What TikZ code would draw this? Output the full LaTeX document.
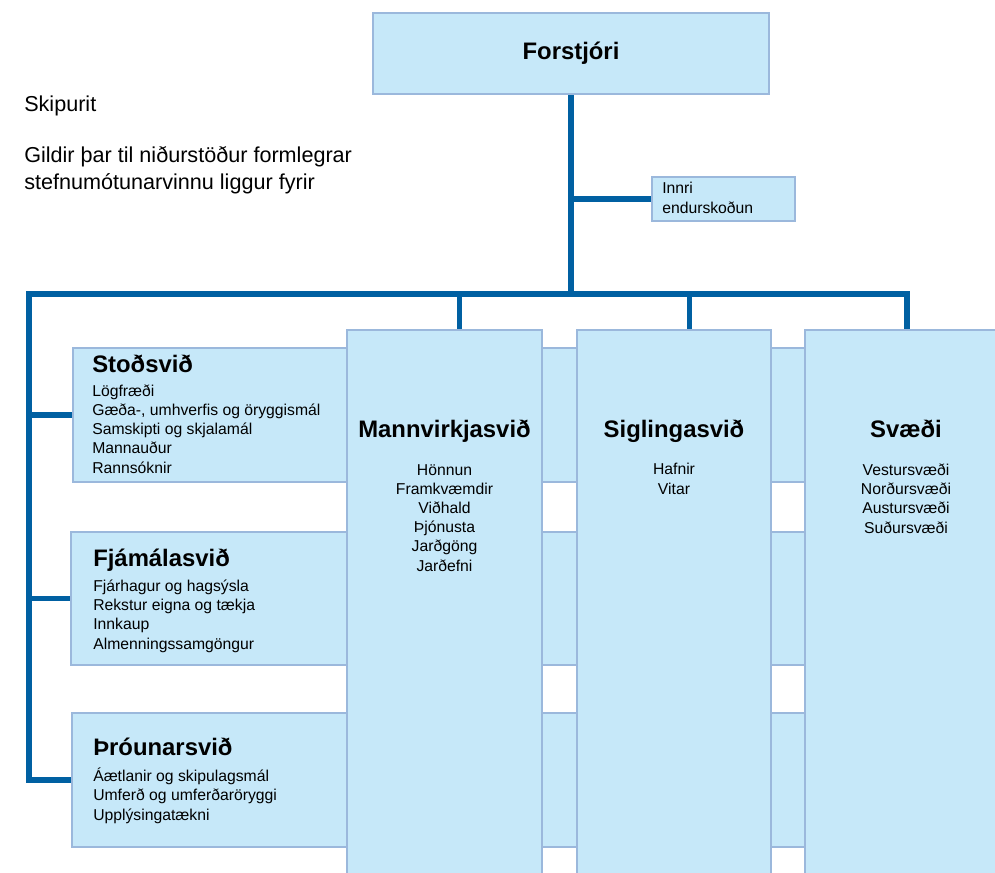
\documentclass[tikz,border=0pt]{standalone}
\usepackage{fontspec}
\setmainfont{Liberation Sans}
\usepackage{xcolor}
\usepackage{tikz}

\definecolor{busblue}{RGB}{0,96,162}
\definecolor{boxline}{RGB}{155,184,220}
\definecolor{boxfill}{RGB}{198,232,249}

\tikzset{
  orgbox/.style={rectangle, draw=boxline, fill=boxfill, line width=1.6pt, inner sep=0pt},
  busline/.style={draw=busblue, line width=3.8pt},
  headtext/.style={inner sep=0pt, font=\bfseries\fontsize{17.9}{21}\selectfont},
  itemtext/.style={inner sep=0pt, font=\fontsize{11.8}{14.3}\selectfont},
  captext/.style={inner sep=0pt, font=\fontsize{16.2}{20.25}\selectfont}
}

\begin{document}
\begin{tikzpicture}[x=0.75pt,y=0.75pt,yscale=-1,xscale=1]
\useasboundingbox (0,0) rectangle (995,873);
\clip (0,0) rectangle (995,873);

%Bands behind the columns
\node[orgbox, minimum width=702.75pt, minimum height=100.5pt] (stod) at (541.5,415) {};
\node[orgbox, minimum width=704.25pt, minimum height=99.75pt] (fja) at (540.5,598.5) {};
\node[orgbox, minimum width=703.5pt, minimum height=100.5pt] (throun) at (541,780) {};
%Columns
\node[orgbox, minimum width=146.25pt, minimum height=427.5pt] (mann) at (444.5,615) {};
\node[orgbox, minimum width=145.5pt, minimum height=427.5pt] (sigl) at (674,615) {};
\node[orgbox, minimum width=153pt, minimum height=427.5pt] (svaedi) at (907,615) {};
%Top boxes
\node[orgbox, minimum width=297pt, minimum height=60.75pt] (forstjori) at (571,53.5) {};
\node[orgbox, minimum width=107.25pt, minimum height=33pt] (innri) at (723.5,199) {};

%Connectors
\coordinate (hub) at (571,294);
\coordinate (busleft) at (29,294);
\draw[busline] (forstjori.south) -- (hub);
\draw[busline] (innri.west) -- (innri.west -| hub);
\draw[busline] (throun.west) -| (busleft) -| (svaedi.north);
\draw[busline] (stod.west) -- (stod.west -| busleft);
\draw[busline] (fja.west) -- (fja.west -| busleft);
\draw[busline] ([xshift=11.5pt]mann.north) -- ([xshift=11.5pt]mann.north |- hub);
\draw[busline] ([xshift=11.5pt]sigl.north) -- ([xshift=11.5pt]sigl.north |- hub);

% Text Node (multi-line texts sit on the baseline of their last line)
\node[headtext] (forstjoriT) at (forstjori.center) {Forstjóri};
% Text Node
\node[captext, anchor=base west] (skipurit) at (24,112) {Skipurit};
% Text Node
\node[captext, anchor=base west, align=left] (gildir) at (24,190) {Gildir þar til niðurstöður formlegrar\\stefnumótunarvinnu liggur fyrir};
% Text Node
\node[itemtext, anchor=base west, align=left, font=\fontsize{11.8}{15}\selectfont] (innriT) at (662,214) {Innri\\endurskoðun};
% Text Node
\node[headtext, anchor=base west] (stodT) at (92,373) {Stoðsvið};
\node[itemtext, anchor=base west, align=left] (stodL) at (92,473) {Lögfræði\\Gæða-, umhverfis og öryggismál\\Samskipti og skjalamál\\Mannauður\\Rannsóknir};
% Text Node
\node[headtext, anchor=base west] (fjaT) at (93,566) {Fjámálasvið};
\node[itemtext, anchor=base west, align=left] (fjaL) at (93,649) {Fjárhagur og hagsýsla\\Rekstur eigna og tækja\\Innkaup\\Almenningssamgöngur};
% Text Node
\node[headtext, anchor=base west] (throunT) at (93,755) {Þróunarsvið};
\node[itemtext, anchor=base west, align=left] (throunL) at (93,820) {Áætlanir og skipulagsmál\\Umferð og umferðaröryggi\\Upplýsingatækni};
% Text Node
\node[headtext, anchor=base] (mannT) at (444.5,437) {Mannvirkjasvið};
\node[itemtext, anchor=base, align=center] (mannL) at (444.5,571) {Hönnun\\Framkvæmdir\\Viðhald\\Þjónusta\\Jarðgöng\\Jarðefni};
% Text Node
\node[headtext, anchor=base] (siglT) at (674,437) {Siglingasvið};
\node[itemtext, anchor=base, align=center] (siglL) at (674,494) {Hafnir\\Vitar};
% Text Node
\node[headtext, anchor=base] (svaediT) at (906,437) {Svæði};
\node[itemtext, anchor=base, align=center] (svaediL) at (906,533) {Vestursvæði\\Norðursvæði\\Austursvæði\\Suðursvæði};
\end{tikzpicture}
\end{document}
